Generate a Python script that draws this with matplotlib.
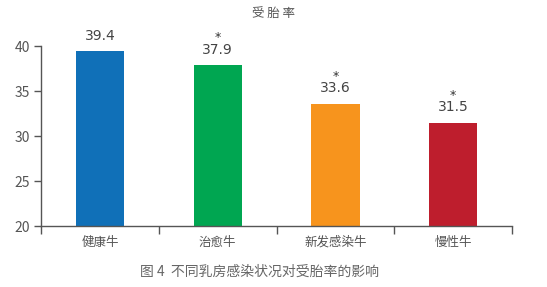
import matplotlib
matplotlib.use("Agg")
import matplotlib.pyplot as plt
from matplotlib.ticker import FixedLocator

plt.rcParams['font.family'] = ['Noto Sans CJK SC', 'DejaVu Sans']

categories = ['健康牛', '治愈牛', '新发感染牛', '慢性牛']
values = [39.4, 37.9, 33.6, 31.5]
significant = [False, True, True, True]
colors = ['#1070B8', '#00A651', '#F7941D', '#BE1E2D']
yticks = [20, 25, 30, 35, 40]
title = '受 胎 率'
caption = '图 4  不同乳房感染状况对受胎率的影响'

fig = plt.figure(figsize=(5.47, 2.87), dpi=100)
ax = fig.add_axes([0.075, 0.2125, 0.861, 0.627])
x = list(range(len(categories)))
ax.bar(x, [v - 20 for v in values], bottom=20, width=0.41, color=colors)
ax.set_xlim(-0.5, 3.5)
ax.set_ylim(20, 40)
ax.set_yticks(yticks)
ax.set_xticks(x)
ax.set_xticklabels(categories, fontsize=9, color='#555555')
ax.xaxis.set_minor_locator(FixedLocator([-0.5, 0.5, 1.5, 2.5, 3.5]))
ax.tick_params(axis='x', which='major', length=0, pad=7)
ax.tick_params(axis='x', which='minor', length=6, width=1, color='#555555')
ax.tick_params(axis='y', length=5, width=1, color='#555555', labelsize=10, labelcolor='#555555', pad=3)
for s in ['top', 'right']:
    ax.spines[s].set_visible(False)
for s in ['left', 'bottom']:
    ax.spines[s].set_color('#555555')
    ax.spines[s].set_linewidth(1)
ax.spines['left'].set_bounds(20, 40)

for xi, v, sig in zip(x, values, significant):
    ax.annotate(f'{v}', (xi, v), xytext=(0, 6), textcoords='offset points',
                ha='center', va='bottom', fontsize=10, color='#444444', family='DejaVu Sans')
    if sig:
        ax.annotate('*', (xi, v), xytext=(0, 15), textcoords='offset points',
                    ha='center', va='bottom', fontsize=9, color='#333333', family='DejaVu Sans')

fig.text(0.5, 0.955, title, ha='center', va='center', fontsize=9, color='#555555')
fig.text(0.475, 0.052, caption, ha='center', va='center', fontsize=10, color='#666666')
fig.savefig('out.png', dpi=100)
